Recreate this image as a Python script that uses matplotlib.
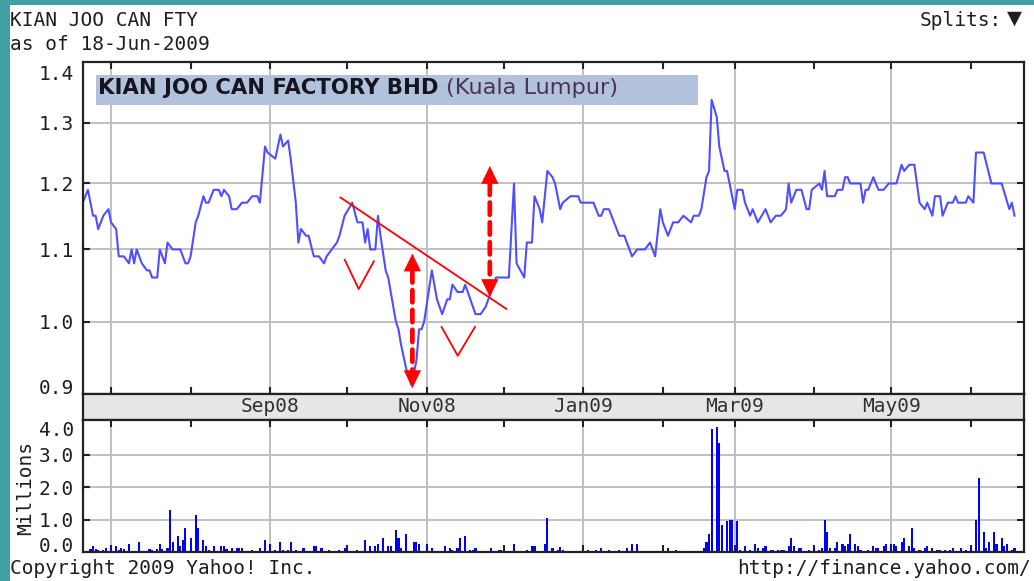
import matplotlib
matplotlib.use("Agg")
import matplotlib.pyplot as plt
import matplotlib.dates as mdates
import matplotlib.ticker as mticker
from matplotlib.patches import Rectangle
from matplotlib.transforms import blended_transform_factory
import pandas as pd

# ---------------- data ----------------
price_dates = [
    '2008-06-20', '2008-06-21', '2008-06-22', '2008-06-24', '2008-06-25', '2008-06-26', '2008-06-28', '2008-06-30',
    '2008-07-01', '2008-07-03', '2008-07-04', '2008-07-06', '2008-07-08', '2008-07-09', '2008-07-10', '2008-07-11',
    '2008-07-13', '2008-07-15', '2008-07-16', '2008-07-17', '2008-07-19', '2008-07-20', '2008-07-22', '2008-07-23',
    '2008-07-25', '2008-07-28', '2008-07-30', '2008-07-31', '2008-08-01', '2008-08-03', '2008-08-04', '2008-08-06',
    '2008-08-07', '2008-08-08', '2008-08-10', '2008-08-12', '2008-08-13', '2008-08-14', '2008-08-16', '2008-08-17',
    '2008-08-19', '2008-08-21', '2008-08-23', '2008-08-25', '2008-08-27', '2008-08-28', '2008-08-30', '2008-08-31',
    '2008-09-03', '2008-09-05', '2008-09-06', '2008-09-08', '2008-09-09', '2008-09-11', '2008-09-12', '2008-09-13',
    '2008-09-15', '2008-09-16', '2008-09-18', '2008-09-20', '2008-09-22', '2008-09-23', '2008-09-25', '2008-09-27',
    '2008-09-28', '2008-09-30', '2008-10-03', '2008-10-05', '2008-10-07', '2008-10-08', '2008-10-09', '2008-10-10',
    '2008-10-12', '2008-10-13', '2008-10-14', '2008-10-16', '2008-10-17', '2008-10-20', '2008-10-21', '2008-10-22',
    '2008-10-24', '2008-10-26', '2008-10-28', '2008-10-29', '2008-10-30', '2008-10-31', '2008-11-03', '2008-11-05',
    '2008-11-07', '2008-11-09', '2008-11-10', '2008-11-11', '2008-11-13', '2008-11-15', '2008-11-16', '2008-11-18',
    '2008-11-20', '2008-11-22', '2008-11-24', '2008-11-26', '2008-11-28', '2008-11-30', '2008-12-03', '2008-12-05',
    '2008-12-06', '2008-12-09', '2008-12-10', '2008-12-12', '2008-12-13', '2008-12-15', '2008-12-16', '2008-12-18',
    '2008-12-20', '2008-12-21', '2008-12-23', '2008-12-24', '2008-12-27', '2008-12-30', '2008-12-31', '2009-01-05',
    '2009-01-07', '2009-01-08', '2009-01-09', '2009-01-11', '2009-01-13', '2009-01-15', '2009-01-17', '2009-01-18',
    '2009-01-20', '2009-01-22', '2009-01-25', '2009-01-27', '2009-01-29', '2009-01-31', '2009-02-01', '2009-02-03',
    '2009-02-05', '2009-02-07', '2009-02-09', '2009-02-12', '2009-02-13', '2009-02-15', '2009-02-16', '2009-02-18',
    '2009-02-19', '2009-02-20', '2009-02-22', '2009-02-23', '2009-02-25', '2009-02-26', '2009-02-27', '2009-03-01',
    '2009-03-02', '2009-03-04', '2009-03-05', '2009-03-07', '2009-03-08', '2009-03-10', '2009-03-13', '2009-03-15',
    '2009-03-17', '2009-03-19', '2009-03-21', '2009-03-22', '2009-03-23', '2009-03-25', '2009-03-27', '2009-03-29',
    '2009-03-30', '2009-03-31', '2009-04-03', '2009-04-04', '2009-04-05', '2009-04-06', '2009-04-08', '2009-04-09',
    '2009-04-10', '2009-04-12', '2009-04-13', '2009-04-14', '2009-04-15', '2009-04-19', '2009-04-20', '2009-04-21',
    '2009-04-22', '2009-04-24', '2009-04-25', '2009-04-26', '2009-04-28', '2009-04-30', '2009-05-03', '2009-05-05',
    '2009-05-06', '2009-05-08', '2009-05-10', '2009-05-12', '2009-05-14', '2009-05-15', '2009-05-17', '2009-05-18',
    '2009-05-20', '2009-05-21', '2009-05-23', '2009-05-25', '2009-05-26', '2009-05-27', '2009-05-30', '2009-05-31',
    '2009-06-02', '2009-06-03', '2009-06-06', '2009-06-09', '2009-06-13', '2009-06-16', '2009-06-17', '2009-06-18',
]
price_values = [
    1.17, 1.18, 1.19, 1.15, 1.15, 1.13, 1.15, 1.16,
    1.14, 1.13, 1.09, 1.09, 1.08, 1.10, 1.08, 1.10,
    1.08, 1.07, 1.07, 1.06, 1.06, 1.10, 1.08, 1.11,
    1.10, 1.10, 1.08, 1.08, 1.09, 1.14, 1.15, 1.18,
    1.17, 1.17, 1.19, 1.19, 1.18, 1.19, 1.18, 1.16,
    1.16, 1.17, 1.17, 1.18, 1.18, 1.17, 1.26, 1.25,
    1.24, 1.28, 1.26, 1.27, 1.24, 1.17, 1.11, 1.13,
    1.12, 1.12, 1.09, 1.09, 1.08, 1.09, 1.10, 1.11,
    1.12, 1.15, 1.17, 1.14, 1.14, 1.11, 1.13, 1.10,
    1.10, 1.15, 1.12, 1.07, 1.06, 1.00, 0.99, 0.97,
    0.94, 0.92, 0.95, 0.99, 0.99, 1.00, 1.07, 1.03,
    1.01, 1.03, 1.03, 1.05, 1.04, 1.04, 1.05, 1.03,
    1.01, 1.01, 1.02, 1.04, 1.06, 1.06, 1.06, 1.20,
    1.08, 1.06, 1.11, 1.11, 1.18, 1.16, 1.14, 1.22,
    1.21, 1.20, 1.16, 1.17, 1.18, 1.18, 1.17, 1.17,
    1.15, 1.15, 1.16, 1.16, 1.14, 1.12, 1.12, 1.11,
    1.09, 1.10, 1.10, 1.11, 1.09, 1.16, 1.14, 1.12,
    1.14, 1.14, 1.15, 1.14, 1.15, 1.15, 1.16, 1.21,
    1.22, 1.34, 1.31, 1.26, 1.22, 1.22, 1.20, 1.16,
    1.19, 1.19, 1.17, 1.15, 1.16, 1.14, 1.16, 1.14,
    1.15, 1.15, 1.16, 1.20, 1.17, 1.19, 1.19, 1.16,
    1.16, 1.19, 1.20, 1.19, 1.22, 1.18, 1.18, 1.18,
    1.19, 1.19, 1.21, 1.21, 1.20, 1.20, 1.17, 1.19,
    1.19, 1.21, 1.20, 1.19, 1.19, 1.20, 1.20, 1.23,
    1.22, 1.23, 1.23, 1.17, 1.16, 1.17, 1.15, 1.18,
    1.18, 1.15, 1.17, 1.17, 1.18, 1.17, 1.17, 1.18,
    1.17, 1.25, 1.25, 1.20, 1.20, 1.16, 1.17, 1.15,
]

vol_dates = [
    '2008-06-23', '2008-06-24', '2008-06-25', '2008-06-26', '2008-06-28', '2008-06-29', '2008-07-01', '2008-07-03',
    '2008-07-04', '2008-07-05', '2008-07-06', '2008-07-08', '2008-07-12', '2008-07-16', '2008-07-17', '2008-07-19',
    '2008-07-20', '2008-07-21', '2008-07-23', '2008-07-24', '2008-07-25', '2008-07-27', '2008-07-28', '2008-07-29',
    '2008-07-30', '2008-08-01', '2008-08-03', '2008-08-04', '2008-08-06', '2008-08-07', '2008-08-08', '2008-08-10',
    '2008-08-13', '2008-08-14', '2008-08-15', '2008-08-17', '2008-08-19', '2008-08-20', '2008-08-21', '2008-08-25',
    '2008-08-28', '2008-08-30', '2008-09-01', '2008-09-03', '2008-09-05', '2008-09-06', '2008-09-08', '2008-09-09',
    '2008-09-11', '2008-09-14', '2008-09-18', '2008-09-19', '2008-09-21', '2008-09-24', '2008-09-28', '2008-09-30',
    '2008-10-01', '2008-10-05', '2008-10-08', '2008-10-10', '2008-10-12', '2008-10-13', '2008-10-15', '2008-10-17',
    '2008-10-18', '2008-10-20', '2008-10-21', '2008-10-22', '2008-10-24', '2008-10-27', '2008-10-28', '2008-10-29',
    '2008-11-01', '2008-11-03', '2008-11-08', '2008-11-10', '2008-11-11', '2008-11-13', '2008-11-14', '2008-11-16',
    '2008-11-18', '2008-11-19', '2008-11-20', '2008-11-26', '2008-11-29', '2008-11-30', '2008-12-05', '2008-12-10',
    '2008-12-12', '2008-12-13', '2008-12-17', '2008-12-18', '2008-12-20', '2008-12-22', '2008-12-23', '2008-12-24',
    '2009-01-03', '2009-01-06', '2009-01-08', '2009-01-11', '2009-01-15', '2009-01-18', '2009-01-20', '2009-01-22',
    '2009-02-03', '2009-02-06', '2009-02-17', '2009-02-18', '2009-02-19', '2009-02-20', '2009-02-22', '2009-02-23',
    '2009-02-24', '2009-02-26', '2009-02-27', '2009-02-28', '2009-03-02', '2009-03-03', '2009-03-05', '2009-03-07',
    '2009-03-09', '2009-03-10', '2009-03-12', '2009-03-13', '2009-03-15', '2009-03-16', '2009-03-18', '2009-03-19',
    '2009-03-20', '2009-03-22', '2009-03-23', '2009-03-24', '2009-03-26', '2009-03-27', '2009-03-30', '2009-04-01',
    '2009-04-03', '2009-04-04', '2009-04-05', '2009-04-06', '2009-04-07', '2009-04-09', '2009-04-10', '2009-04-12',
    '2009-04-13', '2009-04-14', '2009-04-15', '2009-04-17', '2009-04-18', '2009-04-19', '2009-04-22', '2009-04-24',
    '2009-04-25', '2009-04-26', '2009-04-28', '2009-04-29', '2009-05-01', '2009-05-02', '2009-05-03', '2009-05-05',
    '2009-05-06', '2009-05-08', '2009-05-09', '2009-05-10', '2009-05-12', '2009-05-14', '2009-05-15', '2009-05-17',
    '2009-05-19', '2009-05-20', '2009-05-22', '2009-05-24', '2009-05-25', '2009-05-28', '2009-05-30', '2009-06-01',
    '2009-06-03', '2009-06-04', '2009-06-06', '2009-06-07', '2009-06-08', '2009-06-10', '2009-06-11', '2009-06-13',
    '2009-06-14', '2009-06-15', '2009-06-17', '2009-06-18',
]
vol_values = [
    0.08, 0.19, 0.10, 0.06, 0.06, 0.11, 0.16, 0.19,
    0.06, 0.11, 0.08, 0.26, 0.31, 0.08, 0.06, 0.08,
    0.26, 0.08, 0.11, 1.30, 0.31, 0.50, 0.19, 0.37,
    0.73, 0.42, 1.13, 0.75, 0.37, 0.19, 0.06, 0.19,
    0.19, 0.19, 0.08, 0.11, 0.11, 0.11, 0.11, 0.06,
    0.11, 0.37, 0.24, 0.06, 0.31, 0.06, 0.06, 0.31,
    0.06, 0.11, 0.19, 0.19, 0.11, 0.06, 0.06, 0.11,
    0.11, 0.06, 0.37, 0.19, 0.19, 0.24, 0.42, 0.19,
    0.19, 0.67, 0.42, 0.11, 0.57, 0.31, 0.31, 0.26,
    0.24, 0.11, 0.19, 0.11, 0.06, 0.11, 0.42, 0.50,
    0.06, 0.06, 0.11, 0.11, 0.06, 0.06, 0.24, 0.06,
    0.19, 0.19, 0.24, 1.06, 0.11, 0.06, 0.16, 0.06,
    0.06, 0.06, 0.11, 0.06, 0.06, 0.11, 0.24, 0.24,
    0.11, 0.06, 0.11, 0.31, 0.57, 3.78, 3.84, 3.35,
    0.83, 0.95, 0.98, 0.98, 0.95, 0.06, 0.19, 0.06,
    0.26, 0.11, 0.11, 0.19, 0.06, 0.06, 0.06, 0.06,
    0.06, 0.19, 0.42, 0.19, 0.11, 0.11, 0.06, 0.11,
    0.06, 0.11, 0.98, 0.62, 0.11, 0.11, 0.31, 0.24,
    0.19, 0.24, 0.57, 0.24, 0.19, 0.06, 0.06, 0.19,
    0.11, 0.11, 0.19, 0.24, 0.24, 0.26, 0.19, 0.31,
    0.42, 0.19, 0.73, 0.11, 0.06, 0.11, 0.19, 0.11,
    0.06, 0.06, 0.06, 0.06, 0.11, 0.11, 0.06, 0.11,
    0.98, 2.28, 0.62, 0.11, 0.31, 0.62, 0.24, 0.42,
    0.19, 0.24, 0.06, 0.11,
]

month_label_dates = ['2008-09-01', '2008-11-01', '2009-01-01', '2009-03-01', '2009-05-01']
month_labels = ['Sep08', 'Nov08', 'Jan09', 'Mar09', 'May09']
price_ticks = [1.0, 1.1, 1.2, 1.3]
price_tick_labels = ['1.0', '1.1', '1.2', '1.3']
price_top_label, price_bottom_label = '1.4', '0.9'
vol_ticks = [1.0, 2.0, 3.0]
vol_tick_labels = ['1.0', '2.0', '3.0']
vol_top_label, vol_bottom_label = '4.0', '0.0'

# hand-drawn red annotations (in data units)
trend_dates = ['2008-09-28 10:00', '2008-12-02 00:00']
trend_prices = [1.178, 1.017]
arrow_dates = ['2008-10-26 10:00', '2008-11-25 14:00']
arrow_tops = [1.094, 1.228]
arrow_bottoms = [0.916, 1.033]
v1_dates = ['2008-09-30 02:00', '2008-10-05 12:00', '2008-10-11 10:00']
v1_prices = [1.085, 1.044, 1.083]
v2_dates = ['2008-11-06 19:00', '2008-11-13 02:00', '2008-11-19 19:00']
v2_prices = [0.993, 0.956, 0.993]

# ---------------- figure ----------------
MONO = ['DejaVu Sans Mono', 'DejaVu Sans']
plt.rcParams['font.family'] = MONO
TXT = '#1e1e1e'
GRID = '#c0c0c0'
FRAME = '#222222'
FS = 14

W, H = 1034, 581
fig = plt.figure(figsize=(W / 100, H / 100), dpi=100)
fig.patch.set_facecolor('white')


def fx(p):
    return p / W


def fy(p):
    return 1 - p / H


L, R = 83, 1024
TOP, PB, VT, VB = 62, 394, 420, 552
ax = fig.add_axes([fx(L), fy(PB), (R - L) / W, (PB - TOP) / H])
band = fig.add_axes([fx(L), fy(VT), (R - L) / W, (VT - PB) / H])
axv = fig.add_axes([fx(L), fy(VB), (R - L) / W, (VB - VT) / H])

xlim = (mdates.date2num(pd.Timestamp('2008-06-20 02:00')),
        mdates.date2num(pd.Timestamp('2009-06-21 17:00')))

pdates = pd.to_datetime(price_dates)
vdates = pd.to_datetime(vol_dates)

ax.plot(pdates, price_values, color='#4f4fff', lw=1.5, zorder=3, solid_joinstyle='round')
ax.set_yscale('log')
ax.set_ylim(0.909, 1.4086)
ax.yaxis.set_major_locator(mticker.FixedLocator(price_ticks))
ax.yaxis.set_major_formatter(mticker.FixedFormatter(price_tick_labels))
ax.yaxis.set_minor_locator(mticker.NullLocator())
ax.yaxis.set_minor_formatter(mticker.NullFormatter())

axv.bar(vdates, vol_values, width=0.8, color='#0000ff', lw=0, zorder=3)
axv.set_ylim(0, 4.07)
axv.yaxis.set_major_locator(mticker.FixedLocator(vol_ticks))
axv.yaxis.set_major_formatter(mticker.FixedFormatter(vol_tick_labels))

for a in (ax, axv):
    a.set_xlim(xlim)
    a.xaxis.set_major_locator(mdates.MonthLocator(bymonth=[1, 3, 5, 7, 9, 11]))
    a.xaxis.set_minor_locator(mdates.MonthLocator(bymonth=[2, 4, 6, 8, 10, 12]))
    a.tick_params(axis='x', which='both', direction='in', top=True, bottom=True,
                  length=5, width=1.5, color=FRAME, labelbottom=False)
    a.tick_params(axis='y', which='major', direction='in', left=True, right=True,
                  length=5, width=1.5, color=FRAME, labelsize=FS, labelcolor=TXT, pad=6.5)
    a.grid(True, which='major', color=GRID, lw=1.4)
    a.set_axisbelow(True)
    for s in a.spines.values():
        s.set_color(FRAME)
        s.set_linewidth(1.6)
        s.set_zorder(6)

band.set_xlim(xlim)
band.set_facecolor('#e6e6e6')
band.set_xticks([])
band.set_yticks([])
for s in band.spines.values():
    s.set_color(FRAME)
    s.set_linewidth(1.6)
btrans = blended_transform_factory(band.transData, band.transAxes)
for d, lab in zip(month_label_dates, month_labels):
    band.text(mdates.date2num(pd.Timestamp(d)), 0.5, lab, transform=btrans,
              ha='center', va='center', fontsize=FS, color='#303030')

# edge labels of the value axes (placed inside the panel height like the original)
fig.text(fx(74), fy(75), price_top_label, ha='right', va='center', fontsize=FS, color=TXT)
fig.text(fx(74), fy(389), price_bottom_label, ha='right', va='center', fontsize=FS, color=TXT)
fig.text(fx(74), fy(430), vol_top_label, ha='right', va='center', fontsize=FS, color=TXT)
fig.text(fx(74), fy(546), vol_bottom_label, ha='right', va='center', fontsize=FS, color=TXT)
fig.text(fx(26), fy(488), 'Millions', rotation=90, ha='center', va='center', fontsize=FS, color=TXT)

# title box inside the price panel
ax.add_patch(Rectangle(((96 - L) / (R - L), (PB - 105) / (PB - TOP)), (698 - 96) / (R - L),
                       30 / (PB - TOP), transform=ax.transAxes, facecolor='#b2c2dc',
                       edgecolor='none', zorder=4))
t1 = ax.text((98 - L) / (R - L), (PB - 88) / (PB - TOP), 'KIAN JOO CAN FACTORY BHD',
             transform=ax.transAxes, family='DejaVu Sans', fontweight='bold', fontsize=15.2,
             color='#15151f', ha='left', va='center', zorder=5)
fig.canvas.draw()
bb = t1.get_window_extent()
ax.text(bb.x1 + 8, (bb.y0 + bb.y1) / 2, '(Kuala Lumpur)', transform=None,
        family='DejaVu Sans', fontsize=16.2, color='#4a3350', ha='left', va='center', zorder=5)

# red annotations
RED = '#ff0000'
ax.plot(pd.to_datetime(trend_dates), trend_prices, color=RED, lw=1.3, zorder=7)
ax.plot(pd.to_datetime(v1_dates), v1_prices, color=RED, lw=1.3, zorder=7)
ax.plot(pd.to_datetime(v2_dates), v2_prices, color=RED, lw=1.3, zorder=7)
for d, top, bot in zip(arrow_dates, arrow_tops, arrow_bottoms):
    xd = mdates.date2num(pd.Timestamp(d))
    ax.annotate('', xy=(xd, bot), xytext=(xd, top),
                arrowprops=dict(arrowstyle='-', color=RED, lw=3.4, linestyle=(0, (2.6, 1.6)),
                                shrinkA=12, shrinkB=12), zorder=7)
    for tip, off in ((top, -12.5), (bot, 12.5)):
        ax.annotate('', xy=(xd, tip), xytext=(0, off), textcoords='offset points',
                    arrowprops=dict(arrowstyle='-|>,head_length=1.2,head_width=0.58',
                                    mutation_scale=10, color=RED, lw=0.5,
                                    shrinkA=0, shrinkB=0), zorder=7)

# header / footer texts
fig.text(fx(10), fy(20), 'KIAN JOO CAN FTY', ha='left', va='center', fontsize=FS, color=TXT)
fig.text(fx(10), fy(45), 'as of 18-Jun-2009', ha='left', va='center', fontsize=FS, color=TXT)
fig.text(fx(1002), fy(20), 'Splits:', ha='right', va='center', fontsize=FS, color=TXT)
fig.text(fx(1014), fy(18), '\u25BC', ha='center', va='center', fontsize=FS, color=TXT,
         family=['DejaVu Sans', 'DejaVu Sans Mono'])
fig.text(fx(10), fy(569), 'Copyright 2009 Yahoo! Inc.', ha='left', va='center', fontsize=FS, color=TXT)
fig.text(fx(1031), fy(569), 'http://finance.yahoo.com/', ha='right', va='center', fontsize=FS, color=TXT)

# teal page border (top and left)
TEAL = '#41a0a6'
fig.add_artist(Rectangle((0, fy(5)), 1, 5 / H, transform=fig.transFigure,
                         facecolor=TEAL, edgecolor='none', zorder=10))
fig.add_artist(Rectangle((0, 0), 10 / W, 1, transform=fig.transFigure,
                         facecolor=TEAL, edgecolor='none', zorder=10))

fig.savefig('out.png', dpi=100, facecolor='white')
